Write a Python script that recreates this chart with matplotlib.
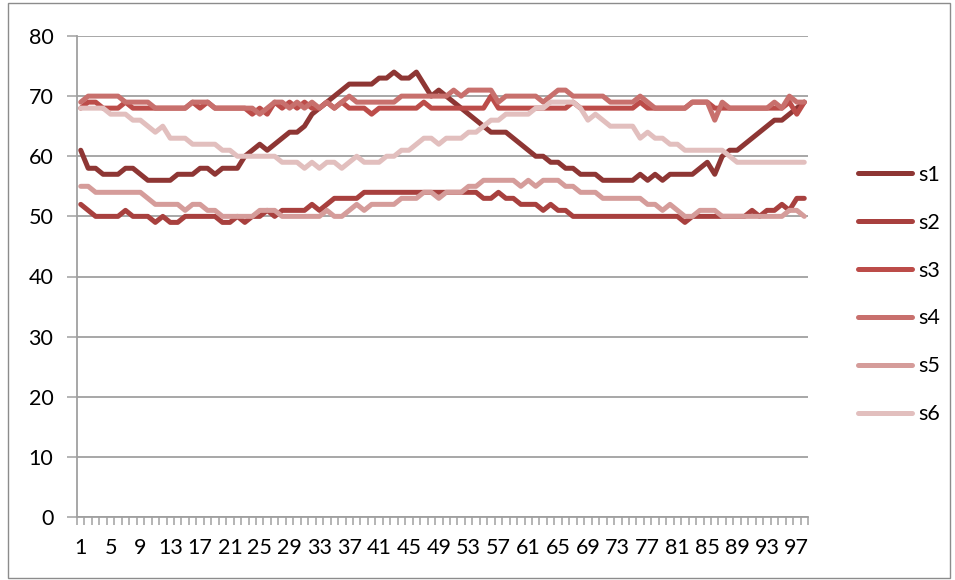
import matplotlib
matplotlib.use("Agg")
import matplotlib.pyplot as plt
from matplotlib.patches import Rectangle
from matplotlib.ticker import FixedLocator, NullFormatter

plt.rcParams['font.family'] = ['Lato', 'DejaVu Sans']

categories = list(range(1, 99))
tick_labels = [str(c) for c in categories if (c - 1) % 4 == 0]
series_names = ["s1", "s2", "s3", "s4", "s5", "s6"]

s1 = [61, 58, 58, 57, 57, 57, 58, 58, 57, 56,
      56, 56, 56, 57, 57, 57, 58, 58, 57, 58,
      58, 58, 60, 61, 62, 61, 62, 63, 64, 64,
      65, 67, 68, 69, 70, 71, 72, 72, 72, 72,
      73, 73, 74, 73, 73, 74, 72, 70, 71, 70,
      69, 68, 67, 66, 65, 64, 64, 64, 63, 62,
      61, 60, 60, 59, 59, 58, 58, 57, 57, 57,
      56, 56, 56, 56, 56, 57, 56, 57, 56, 57,
      57, 57, 57, 58, 59, 57, 60, 61, 61, 62,
      63, 64, 65, 66, 66, 67, 68, 69]

s2 = [52, 51, 50, 50, 50, 50, 51, 50, 50, 50,
      49, 50, 49, 49, 50, 50, 50, 50, 50, 49,
      49, 50, 49, 50, 50, 51, 50, 51, 51, 51,
      51, 52, 51, 52, 53, 53, 53, 53, 54, 54,
      54, 54, 54, 54, 54, 54, 54, 54, 54, 54,
      54, 54, 54, 54, 53, 53, 54, 53, 53, 52,
      52, 52, 51, 52, 51, 51, 50, 50, 50, 50,
      50, 50, 50, 50, 50, 50, 50, 50, 50, 50,
      50, 49, 50, 50, 50, 50, 50, 50, 50, 50,
      51, 50, 51, 51, 52, 51, 53, 53]

s3 = [68, 69, 69, 68, 68, 68, 69, 68, 68, 68,
      68, 68, 68, 68, 68, 69, 68, 69, 68, 68,
      68, 68, 68, 67, 68, 67, 69, 68, 69, 68,
      69, 68, 68, 69, 68, 69, 68, 68, 68, 67,
      68, 68, 68, 68, 68, 68, 69, 68, 68, 68,
      68, 68, 68, 68, 68, 70, 68, 68, 68, 68,
      68, 68, 68, 68, 68, 68, 69, 68, 68, 68,
      68, 68, 68, 68, 68, 69, 68, 68, 68, 68,
      68, 68, 69, 69, 69, 68, 68, 68, 68, 68,
      68, 68, 68, 68, 68, 69, 67, 69]

s4 = [69, 70, 70, 70, 70, 70, 69, 69, 69, 69,
      68, 68, 68, 68, 68, 69, 69, 69, 68, 68,
      68, 68, 68, 68, 67, 68, 69, 69, 68, 69,
      68, 69, 68, 69, 68, 69, 70, 69, 69, 69,
      69, 69, 69, 70, 70, 70, 70, 70, 70, 70,
      71, 70, 71, 71, 71, 71, 69, 70, 70, 70,
      70, 70, 69, 70, 71, 71, 70, 70, 70, 70,
      70, 69, 69, 69, 69, 70, 69, 68, 68, 68,
      68, 68, 69, 69, 69, 66, 69, 68, 68, 68,
      68, 68, 68, 69, 68, 70, 69, 69]

s5 = [55, 55, 54, 54, 54, 54, 54, 54, 54, 53,
      52, 52, 52, 52, 51, 52, 52, 51, 51, 50,
      50, 50, 50, 50, 51, 51, 51, 50, 50, 50,
      50, 50, 50, 51, 50, 50, 51, 52, 51, 52,
      52, 52, 52, 53, 53, 53, 54, 54, 53, 54,
      54, 54, 55, 55, 56, 56, 56, 56, 56, 55,
      56, 55, 56, 56, 56, 55, 55, 54, 54, 54,
      53, 53, 53, 53, 53, 53, 52, 52, 51, 52,
      51, 50, 50, 51, 51, 51, 50, 50, 50, 50,
      50, 50, 50, 50, 50, 51, 51, 50]

s6 = [68, 68, 68, 68, 67, 67, 67, 66, 66, 65,
      64, 65, 63, 63, 63, 62, 62, 62, 62, 61,
      61, 60, 60, 60, 60, 60, 60, 59, 59, 59,
      58, 59, 58, 59, 59, 58, 59, 60, 59, 59,
      59, 60, 60, 61, 61, 62, 63, 63, 62, 63,
      63, 63, 64, 64, 65, 66, 66, 67, 67, 67,
      67, 68, 68, 69, 69, 69, 69, 68, 66, 67,
      66, 65, 65, 65, 65, 63, 64, 63, 63, 62,
      62, 61, 61, 61, 61, 61, 61, 60, 59, 59,
      59, 59, 59, 59, 59, 59, 59, 59]

all_series = [s1, s2, s3, s4, s5, s6]
colors = ['#8E3634', '#A8403E', '#BC4C49', '#C8706D', '#D59C9A', '#E2BFBE']

W, H = 955, 580
fig = plt.figure(figsize=(W / 100, H / 100), dpi=100)
ax = fig.add_axes([77 / W, (H - 517) / H, 731 / W, 481 / H])

handles = []
for name, vals, c in zip(series_names, all_series, colors):
    h, = ax.plot(categories, vals, color=c, lw=3.6, solid_joinstyle='round',
                 solid_capstyle='round', label=name)
    handles.append(h)

ax.set_xlim(0.5, 98.5)
ax.set_ylim(0, 80)
ax.set_yticks(range(0, 81, 10))
ax.yaxis.grid(True, color='#A0A0A0', lw=1.3)
ax.set_axisbelow(True)

major_pos = [c for c in categories if (c - 1) % 4 == 0]
ax.xaxis.set_major_locator(FixedLocator(major_pos))
ax.set_xticklabels(tick_labels)
ax.xaxis.set_minor_locator(FixedLocator([c - 0.5 for c in categories] + [98.5]))
ax.xaxis.set_minor_formatter(NullFormatter())
ax.tick_params(axis='x', which='major', length=0, pad=15, labelsize=15.5, colors='black')
ax.tick_params(axis='x', which='minor', length=6, width=1.1, color='#A0A0A0', direction='out')
ax.tick_params(axis='y', which='major', length=7, width=1.1, color='#A0A0A0', pad=10,
               labelsize=15.5)

for sp in ['top', 'right']:
    ax.spines[sp].set_visible(False)
for sp in ['left', 'bottom']:
    ax.spines[sp].set_color('#A0A0A0')
    ax.spines[sp].set_linewidth(1.3)

fig.legend(handles=handles, labels=series_names, loc='center left',
           bbox_to_anchor=(858 / W, 1 - 294.5 / H), frameon=False,
           fontsize=15.5, handlelength=2.5, handletextpad=0.3,
           labelspacing=1.3, borderpad=0, borderaxespad=0)

fig.patches.append(Rectangle((8 / W, 2 / H), 942 / W, 575 / H, transform=fig.transFigure,
                             fill=False, edgecolor='#8C8C8C', lw=1.0))

fig.savefig('out.png', dpi=100)
